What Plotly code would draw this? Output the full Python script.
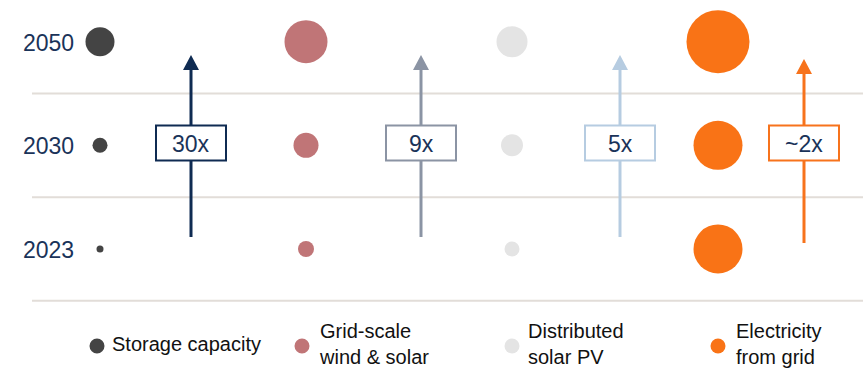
import plotly.graph_objects as go

# ---- data -------------------------------------------------------------
years = ["2023", "2030", "2050"]
series_names = ["Storage capacity", "Grid-scale wind & solar",
                "Distributed solar PV", "Electricity from grid"]
legend_labels = ["Storage capacity", "Grid-scale<br>wind & solar",
                 "Distributed<br>solar PV", "Electricity<br>from grid"]
# relative bubble size per year (2023, 2030, 2050)
storage_size = [7, 15, 29]
grid_scale_size = [16, 25, 43]
distributed_size = [15, 22, 31]
grid_power_size = [49, 49, 63]
growth_labels = ["30x", "9x", "5x", "~2x"]

# ---- styling ------------------------------------------------------------
W, H = 863, 369
FONT = "Liberation Sans, Arial, sans-serif"
NAVY = "#1a3359"
bubble_colors = ["#444444", "#c07577", "#e4e4e4", "#f97316"]
arrow_colors = ["#0f2b52", "#8b94a4", "#b6cce1", "#f7731c"]
GRID = "#e2ddd8"

sizes = [storage_size, grid_scale_size, distributed_size, grid_power_size]

fig = go.Figure()

# category axis geometry: columns 206 px apart, first at 100 px
col_step = 206.0
x_lo = -100 / col_step
x_hi = x_lo + W / col_step
y_lo, y_hi = -1.158, 2.402


def row_px(idx):
    """Pixel row of a category index on the y axis."""
    return H * (y_hi - idx) / (y_hi - y_lo)


for i, name in enumerate(series_names):
    fig.add_trace(go.Scatter(
        x=[i] * len(years), y=years, mode="markers", name=name,
        marker=dict(size=sizes[i], sizemode="diameter", opacity=1,
                    color=bubble_colors[i], line=dict(width=0)),
        hoverinfo="skip", showlegend=False,
        xaxis="x", yaxis="y",
    ))

shapes = []
annotations = []

# row separators
for yv in (-0.5, 0.5, 1.5):
    shapes.append(dict(type="line", xref="x2", yref="y2", x0=32, x1=W,
                       y0=row_px(yv), y1=row_px(yv),
                       line=dict(color=GRID, width=2), layer="below"))

# year labels
for k, yr in enumerate(years):
    annotations.append(dict(xref="x2", yref="y2", x=76, y=row_px(k) + 1,
                            text=yr, showarrow=False,
                            xanchor="right", yanchor="middle",
                            font=dict(family=FONT, size=23, color=NAVY)))

# growth arrows with label boxes (pixel geometry on the overlay axes)
arrow_x = [191, 421, 620, 804]
arrow_tip = [55, 55, 55, 59]
arrow_base = [237, 237, 237, 243]
box_w, box_h, box_cy = 70, 35, 143
for i, lab in enumerate(growth_labels):
    ax, c = arrow_x[i], arrow_colors[i]
    tip = arrow_tip[i]
    shapes.append(dict(type="line", xref="x2", yref="y2", x0=ax, x1=ax,
                       y0=arrow_base[i], y1=tip + 14,
                       line=dict(color=c, width=3)))
    shapes.append(dict(type="path", xref="x2", yref="y2",
                       path=f"M {ax-8},{tip+15} L {ax+8},{tip+15} L {ax},{tip} Z",
                       fillcolor=c, line=dict(color=c, width=0)))
    shapes.append(dict(type="rect", xref="x2", yref="y2",
                       x0=ax - box_w / 2, x1=ax + box_w / 2,
                       y0=box_cy - box_h / 2, y1=box_cy + box_h / 2,
                       fillcolor="white", line=dict(color=c, width=2)))
    annotations.append(dict(xref="x2", yref="y2", x=ax, y=box_cy + 1,
                            text=lab, showarrow=False,
                            xanchor="center", yanchor="middle",
                            font=dict(family=FONT, size=23, color=NAVY)))

# legend
legend_dot_x = [97, 302, 512, 718]
legend_text_x = [110, 317, 526, 734]
legend_y = 344
for i, lab in enumerate(legend_labels):
    dx = legend_dot_x[i]
    shapes.append(dict(type="circle", xref="x2", yref="y2",
                       x0=dx - 7.5, x1=dx + 7.5,
                       y0=legend_y + 2 - 7.5, y1=legend_y + 2 + 7.5,
                       fillcolor=bubble_colors[i], line=dict(width=0)))
    annotations.append(dict(xref="x2", yref="y2", x=legend_text_x[i],
                            y=legend_y, text=lab, showarrow=False,
                            xanchor="left", yanchor="middle", align="left",
                            font=dict(family=FONT, size=20, color="#111111")))

hidden = dict(showgrid=False, zeroline=False, showticklabels=False,
              ticks="", showline=False, fixedrange=True)

fig.update_layout(
    width=W, height=H,
    margin=dict(l=0, r=0, t=0, b=0),
    paper_bgcolor="white", plot_bgcolor="white",
    showlegend=False,
    xaxis=dict(range=[x_lo, x_hi], domain=[0, 1], **hidden),
    yaxis=dict(type="category", categoryorder="array", categoryarray=years,
               range=[y_lo, y_hi], domain=[0, 1], **hidden),
    xaxis2=dict(range=[0, W], overlaying="x", **hidden),
    yaxis2=dict(range=[H, 0], overlaying="y", **hidden),
    shapes=shapes,
    annotations=annotations,
)

fig.write_html("out.html")
